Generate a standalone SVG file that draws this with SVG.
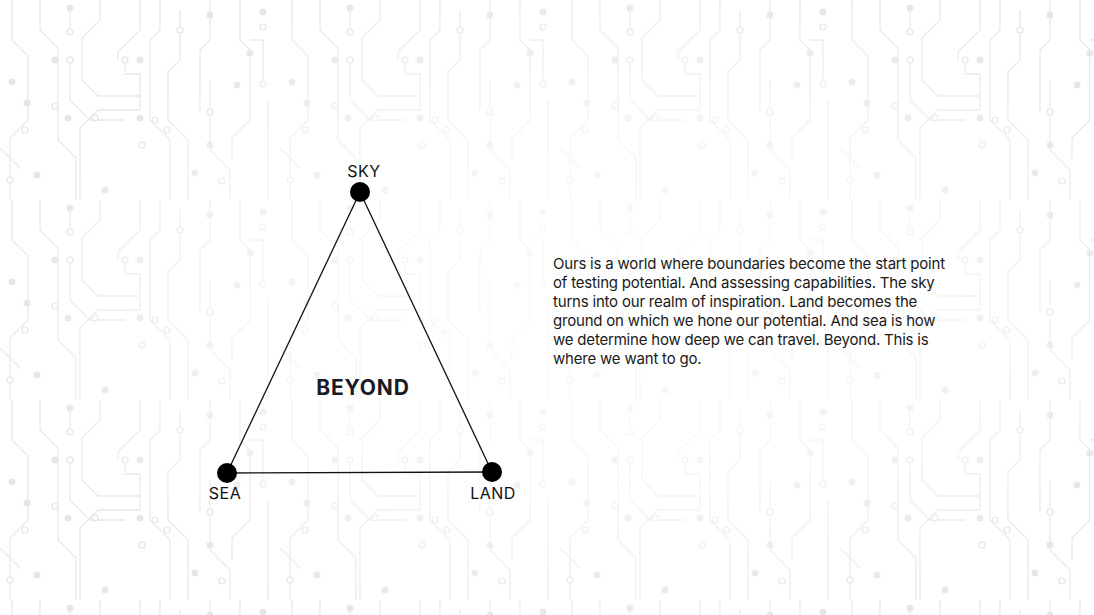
<svg xmlns="http://www.w3.org/2000/svg" width="1094" height="615" viewBox="0 0 1094 615">
<defs>
<style>
.tr{fill:none;stroke:#e9e9e9;stroke-width:1.3}
.dt{fill:#e6e6e6}
.rg{fill:#fff;stroke:#e3e3e3;stroke-width:1.2}
.node{fill:#000}
.edge{stroke:#111;stroke-width:1.3;fill:none}
.lbl{font-family:Inter,"Liberation Sans",sans-serif;font-size:16px;fill:#111;letter-spacing:0.5px;text-anchor:middle}
.big{font-family:Inter,"Liberation Sans",sans-serif;font-size:21px;font-weight:700;fill:#1a1a24;letter-spacing:0.8px;text-anchor:middle}
.body{font-family:Inter,"Liberation Sans",sans-serif;font-size:15px;fill:#1a1a1a;letter-spacing:-0.2px}
</style>
<pattern id="circ" width="280" height="200" patternUnits="userSpaceOnUse">
<path class="tr" d="M12 0V40L28 56V120L10 138V200"/>
<path class="tr" d="M40 0V30L58 48V140L76 158V200"/>
<path class="tr" d="M70 8V32M70 60V100L90 120H125"/>
<path class="tr" d="M100 0V20L82 38V80L98 96H140"/>
<path class="tr" d="M125 60V74H140V110H98L80 128V200"/>
<path class="tr" d="M140 0V30L118 52V60"/>
<path class="tr" d="M160 0V30L150 40V120L170 140V200"/>
<path class="tr" d="M180 10V60L168 72V120L188 140V200"/>
<path class="tr" d="M210 0V40L200 50V112M210 80V150L230 170V200"/>
<path class="tr" d="M240 0V40L250 50V120L232 138V160"/>
<path class="tr" d="M263 40V84M250 40H263"/>
<path class="tr" d="M268 100V200M0 148L20 168"/>
<circle class="dt" cx="70" cy="8" r="3.5"/>
<circle class="rg" cx="70" cy="32" r="3"/>
<circle class="dt" cx="55" cy="60" r="3.5"/>
<circle class="rg" cx="70" cy="60" r="3"/>
<circle class="dt" cx="140" cy="60" r="3.5"/>
<circle class="rg" cx="125" cy="60" r="3"/>
<circle class="rg" cx="180" cy="30" r="3"/>
<circle class="dt" cx="210" cy="15" r="3.5"/>
<circle class="dt" cx="237" cy="85" r="3.5"/>
<circle class="rg" cx="210" cy="112" r="3"/>
<circle class="dt" cx="263" cy="12" r="3.5"/>
<circle class="rg" cx="263" cy="27" r="3"/>
<circle class="dt" cx="250" cy="53" r="3.5"/>
<circle class="rg" cx="263" cy="84" r="3"/>
<circle class="dt" cx="12" cy="82" r="3.5"/>
<circle class="dt" cx="27" cy="103" r="3.5"/>
<circle class="rg" cx="25" cy="130" r="3"/>
<circle class="rg" cx="55" cy="106" r="3"/>
<circle class="dt" cx="68" cy="118" r="3.5"/>
<circle class="rg" cx="95" cy="118" r="3"/>
<circle class="dt" cx="140" cy="118" r="3.5"/>
<circle class="rg" cx="155" cy="120" r="3"/>
<circle class="rg" cx="167" cy="130" r="3"/>
<circle class="dt" cx="210" cy="145" r="3.5"/>
<circle class="rg" cx="142" cy="145" r="3"/>
<circle class="dt" cx="37" cy="175" r="3.5"/>
<circle class="rg" cx="10" cy="180" r="3"/>
<circle class="dt" cx="195" cy="173" r="3.5"/>
<circle class="rg" cx="222" cy="181" r="3"/>
<circle class="dt" cx="105" cy="190" r="3.5"/>
</pattern>
<radialGradient id="fade" cx="0.55" cy="0.5" r="0.55">
<stop offset="0" stop-color="#fff" stop-opacity="0.8"/>
<stop offset="0.6" stop-color="#fff" stop-opacity="0.5"/>
<stop offset="1" stop-color="#fff" stop-opacity="0"/>
</radialGradient>
</defs>
<rect width="1094" height="615" fill="#fff"/>
<rect width="1094" height="615" fill="url(#circ)"/>
<rect width="1094" height="615" fill="url(#fade)"/>

<g id="connectors">
<line class="edge" x1="360" y1="192" x2="227" y2="473"/>
<line class="edge" x1="360" y1="192" x2="492" y2="472"/>
<line class="edge" x1="227" y1="473" x2="492" y2="472"/>
</g>

<g id="node-sky">
<circle class="node" cx="360" cy="192" r="10"/>
<text class="lbl" x="364" y="177">SKY</text>
</g>
<g id="node-sea">
<circle class="node" cx="227" cy="473" r="10"/>
<text class="lbl" x="225" y="499">SEA</text>
</g>
<g id="node-land">
<circle class="node" cx="492" cy="472" r="10"/>
<text class="lbl" x="493" y="499">LAND</text>
</g>
<g id="center-label">
<text class="big" x="363" y="395">BEYOND</text>
</g>

<g id="description">
<text class="body">
<tspan x="553" y="269">Ours is a world where boundaries become the start point</tspan>
<tspan x="553" y="288">of testing potential. And assessing capabilities. The sky</tspan>
<tspan x="553" y="307">turns into our realm of inspiration. Land becomes the</tspan>
<tspan x="553" y="326">ground on which we hone our potential. And sea is how</tspan>
<tspan x="553" y="345">we determine how deep we can travel. Beyond. This is</tspan>
<tspan x="553" y="364">where we want to go.</tspan>
</text>
</g>
</svg>
